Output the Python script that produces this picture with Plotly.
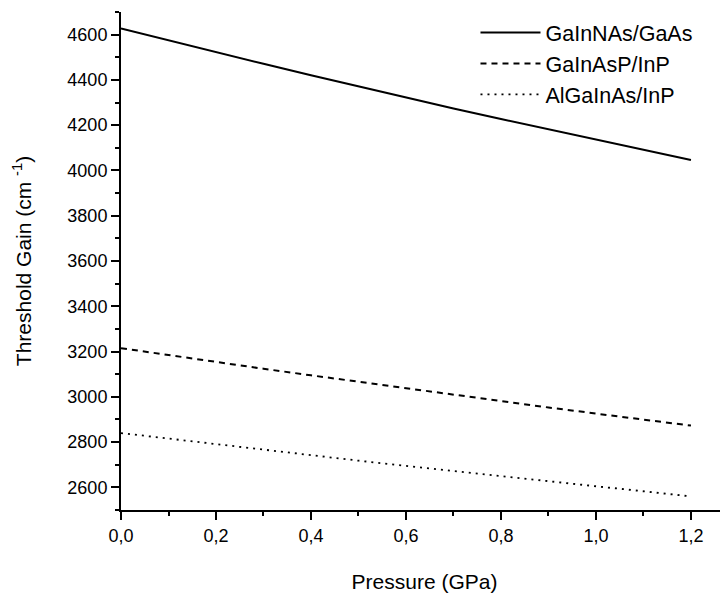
import plotly.graph_objects as go

pressure = [0.0, 0.1, 0.2, 0.3, 0.4, 0.5, 0.6, 0.7, 0.8, 0.9, 1.0, 1.1, 1.2]
gainas_gaas = [4627, 4574, 4522, 4471, 4421, 4371, 4322, 4274, 4227, 4181, 4135, 4090, 4046]
gainasp_inp = [3215, 3184, 3154, 3124, 3095, 3066, 3037, 3009, 2981, 2953, 2926, 2899, 2873]
algainas_inp = [2840, 2815, 2790, 2766, 2742, 2718, 2695, 2672, 2649, 2626, 2604, 2582, 2560]

series_names = ["GaInNAs/GaAs", "GaInAsP/InP", "AlGaInAs/InP"]
x_tickvals = [0.0, 0.2, 0.4, 0.6, 0.8, 1.0, 1.2]
x_ticktext = ["0,0", "0,2", "0,4", "0,6", "0,8", "1,0", "1,2"]
y_tickvals = [2600, 2800, 3000, 3200, 3400, 3600, 3800, 4000, 4200, 4400, 4600]

FONT = "Liberation Sans, Arial, sans-serif"

fig = go.Figure()
fig.add_trace(go.Scatter(x=pressure, y=gainas_gaas, mode="lines", name=series_names[0],
                         line=dict(color="black", width=2, dash="solid")))
fig.add_trace(go.Scatter(x=pressure, y=gainasp_inp, mode="lines", name=series_names[1],
                         line=dict(color="black", width=2, dash="6px,5px")))
fig.add_trace(go.Scatter(x=pressure, y=algainas_inp, mode="lines", name=series_names[2],
                         line=dict(color="black", width=1.8, dash="2px,5px")))

fig.update_layout(
    width=720, height=590,
    margin=dict(l=113, r=0, t=4, b=88),
    paper_bgcolor="white", plot_bgcolor="white",
    font=dict(family=FONT, color="black", size=17),
    showlegend=True,
    legend=dict(x=0.584, y=1.0, xanchor="left", yanchor="top",
                bgcolor="rgba(0,0,0,0)", borderwidth=0,
                font=dict(size=21.5, family=FONT), itemwidth=60,
                tracegroupgap=0),
)
fig.update_xaxes(
    range=[0, 1.278], showgrid=False, zeroline=False,
    showline=True, linecolor="black", linewidth=2,
    ticks="outside", ticklen=8, tickwidth=2, tickcolor="black",
    tickvals=x_tickvals, ticktext=x_ticktext,
    tickfont=dict(size=18, family=FONT),
    minor=dict(dtick=0.1, tick0=0, ticks="outside", ticklen=4, tickwidth=2, tickcolor="black"),
    title=dict(text="Pressure (GPa)", font=dict(size=21, family=FONT), standoff=30),
)
fig.update_yaxes(
    range=[2500, 4700], showgrid=False, zeroline=False,
    showline=True, linecolor="black", linewidth=2,
    ticks="outside", ticklen=8, tickwidth=2, tickcolor="black",
    tickvals=y_tickvals,
    tickfont=dict(size=18, family=FONT),
    minor=dict(dtick=100, tick0=2500, ticks="outside", ticklen=4, tickwidth=2, tickcolor="black"),
    title=dict(text="Threshold Gain (cm <sup>-1</sup>)", font=dict(size=21, family=FONT), standoff=30),
)

fig.write_html("out.html")
